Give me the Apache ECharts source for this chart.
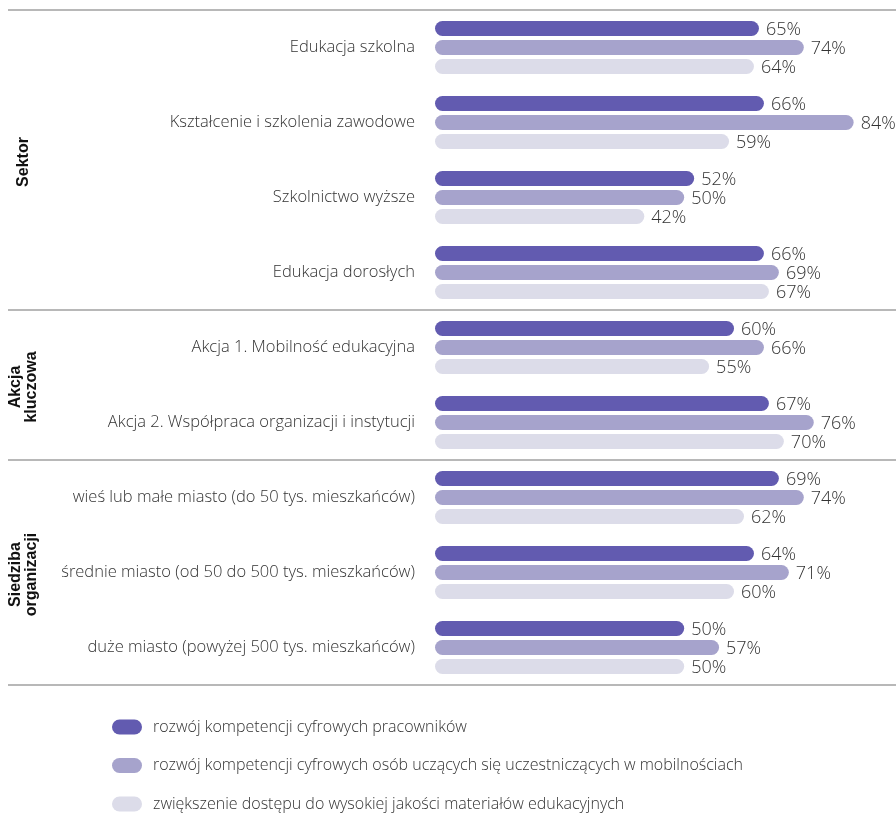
<!DOCTYPE html>
<html>
<head>
<meta charset="utf-8">
<script src="https://cdn.jsdelivr.net/npm/echarts@6/dist/echarts.min.js"></script>
<style>
  html, body { margin: 0; padding: 0; background: #fff; }
  #main { width: 896px; height: 813px; }
</style>
</head>
<body>
<div id="main"></div>
<script>
const categories = [
  'Edukacja szkolna',
  'Kształcenie i szkolenia zawodowe',
  'Szkolnictwo wyższe',
  'Edukacja dorosłych',
  'Akcja 1. Mobilność edukacyjna',
  'Akcja 2. Współpraca organizacji i instytucji',
  'wieś lub małe miasto (do 50 tys. mieszkańców)',
  'średnie miasto (od 50 do 500 tys. mieszkańców)',
  'duże miasto (powyżej 500 tys. mieszkańców)'
];
const seriesNames = [
  'rozwój kompetencji cyfrowych pracowników',
  'rozwój kompetencji cyfrowych osób uczących się uczestniczących w mobilnościach',
  'zwiększenie dostępu do wysokiej jakości materiałów edukacyjnych'
];
const staffSkills = [65, 66, 52, 66, 60, 67, 69, 64, 50];
const learnerSkills = [74, 84, 50, 69, 66, 76, 74, 71, 57];
const materials = [64, 59, 42, 67, 55, 70, 62, 60, 50];
// group label, number of categories in the group
const groups = [['Sektor', 4], ['Akcja\nkluczowa', 2], ['Siedziba\norganizacji', 3]];

const colors = ['#625bb0', '#a6a3cc', '#dcdce9'];
const font = '"Open Sans", Lato, sans-serif';

const gridTop = 10, gridHeight = 675, gridLeft = 435;
const band = gridHeight / categories.length;

// separators and rotated group titles
const graphics = [];
let start = 0;
graphics.push({ type: 'line', shape: { x1: 8, y1: gridTop, x2: 896, y2: gridTop },
  style: { stroke: '#a0a0a0', lineWidth: 1.5 } });
groups.forEach(([name, n]) => {
  const y0 = gridTop + start * band;
  const y1 = gridTop + (start + n) * band;
  graphics.push({ type: 'line', shape: { x1: 8, y1: y1, x2: 896, y2: y1 },
    style: { stroke: '#a0a0a0', lineWidth: 1.5 } });
  graphics.push({ type: 'text', x: 24, y: (y0 + y1) / 2 + 2, rotation: Math.PI / 2,
    style: { text: name, font: 'bold 16px "Liberation Sans", Arial, sans-serif', fill: '#111',
      align: 'center', verticalAlign: 'middle', lineHeight: 16 } });
  start += n;
});

const chart = echarts.init(document.getElementById('main'));

function barSeries(i, data) {
  return {
    name: seriesNames[i],
    type: 'bar',
    data: data,
    barWidth: 15,
    barGap: '27%',
    itemStyle: { color: colors[i], borderRadius: 7.5 },
    label: {
      show: true, position: 'right', distance: 7, formatter: '{c}%', offset: [0, 1],
      color: '#333', fontSize: 18, fontFamily: font, fontWeight: 300
    }
  };
}

chart.setOption({
  animation: false,
  grid: { left: gridLeft, right: 0, top: gridTop, height: gridHeight },
  xAxis: { type: 'value', min: 0, max: 92.5, show: false },
  yAxis: {
    type: 'category', data: categories, inverse: true,
    axisLine: { show: false }, axisTick: { show: false },
    axisLabel: { margin: 20, color: '#333', fontSize: 16.5, fontFamily: font, fontWeight: 300 }
  },
  legend: {
    orient: 'vertical', left: 112, top: 719, padding: 0, itemWidth: 30, itemHeight: 15,
    itemGap: 22.5, height: 100,
    icon: 'path://M7.5,0 L22.5,0 A7.5,7.5 0 0 1 22.5,15 L7.5,15 A7.5,7.5 0 0 1 7.5,0 Z',
    textStyle: { color: '#333', fontSize: 16, fontFamily: font, fontWeight: 300, padding: [0, 0, 0, 6] },
    data: seriesNames
  },
  graphic: graphics,
  series: [barSeries(0, staffSkills), barSeries(1, learnerSkills), barSeries(2, materials)]
});
</script>
</body>
</html>
